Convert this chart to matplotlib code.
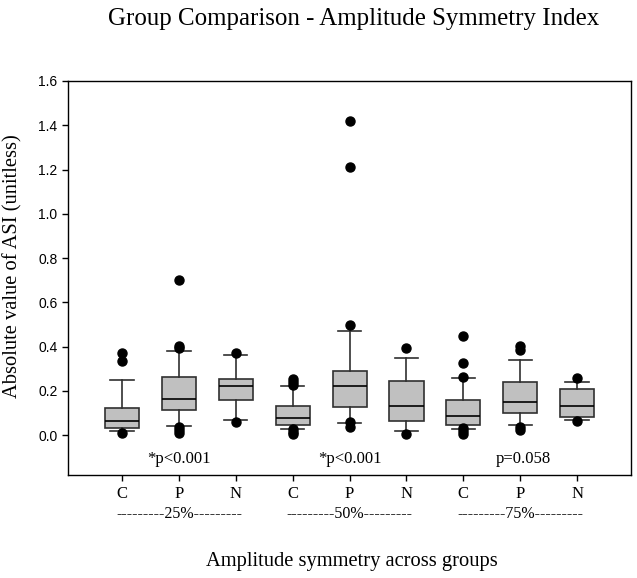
import matplotlib
matplotlib.use('Agg')
import matplotlib.pyplot as plt

# Box statistics (10th/25th/50th/75th/90th percentiles)
groups = ['C', 'P', 'N', 'C', 'P', 'N', 'C', 'P', 'N']
whisker_lo = [0.017, 0.042, 0.067, 0.026, 0.056, 0.017, 0.026, 0.045, 0.070]
q1 = [0.035, 0.112, 0.157, 0.047, 0.127, 0.065, 0.048, 0.100, 0.083]
median = [0.065, 0.163, 0.224, 0.077, 0.221, 0.133, 0.088, 0.150, 0.133]
q3 = [0.122, 0.265, 0.254, 0.130, 0.292, 0.243, 0.160, 0.240, 0.210]
whisker_hi = [0.251, 0.381, 0.361, 0.224, 0.469, 0.348, 0.259, 0.342, 0.242]
outliers = [
    [0.373, 0.336, 0.012],
    [0.701, 0.402, 0.392, 0.038, 0.024, 0.012],
    [0.373, 0.060],
    [0.254, 0.240, 0.226, 0.029, 0.015, 0.005],
    [1.419, 1.211, 0.500, 0.059, 0.036],
    [0.393, 0.006],
    [0.450, 0.328, 0.265, 0.033, 0.020, 0.006],
    [0.404, 0.384, 0.039, 0.024],
    [0.257, 0.063],
]
levels = ['---------25%---------', '---------50%---------', '---------75%---------']
p_values = ['*p<0.001', '*p<0.001', 'p=0.058']

serif = ['Liberation Serif', 'DejaVu Serif']
sans = ['Liberation Sans', 'DejaVu Sans']

stats = []
for i in range(len(groups)):
    stats.append({'whislo': whisker_lo[i], 'q1': q1[i], 'med': median[i],
                  'q3': q3[i], 'whishi': whisker_hi[i], 'fliers': outliers[i]})

fig = plt.figure(figsize=(6.37, 5.78), dpi=100)
ax = fig.add_axes([0.1068, 0.178, 0.884, 0.682])

positions = list(range(1, len(groups) + 1))
ax.bxp(stats, positions=positions, widths=0.6, capwidths=0.41, patch_artist=True,
       boxprops=dict(facecolor='#c0c0c0', edgecolor='#303030', linewidth=1.2),
       medianprops=dict(color='black', linewidth=1.2),
       whiskerprops=dict(color='#303030', linewidth=1.2),
       capprops=dict(color='#303030', linewidth=1.2),
       flierprops=dict(marker='o', markersize=6.5, markerfacecolor='black',
                       markeredgecolor='black'))

ax.set_xlim(0.05, 9.95)
ax.set_ylim(-0.18, 1.6)
ax.set_yticks([0.0, 0.2, 0.4, 0.6, 0.8, 1.0, 1.2, 1.4, 1.6])
ax.set_yticklabels([f'{v:.1f}' for v in ax.get_yticks()], family=sans, fontsize=10)
ax.set_xticks(positions)
ax.set_xticklabels(groups, family=serif, fontsize=12)
ax.tick_params(axis='both', direction='out', length=4, width=1)
ax.tick_params(axis='x', pad=4)

for s in ax.spines.values():
    s.set_linewidth(1.0)

# p-values inside the plot, level labels below the tick labels
for k in range(3):
    center = 3 * k + 2
    ax.text(center + (0.05 if k == 2 else 0), -0.107, p_values[k], ha='center', va='center',
            family=serif, fontsize=12)
    ax.text(center, -0.355, levels[k], ha='center', va='center',
            family=serif, fontsize=11.5, transform=ax.transData, clip_on=False)

fig.text(0.020, 0.540, 'Absolute value of ASI (unitless)', rotation=90, ha='center',
         va='center', family=serif, fontsize=14.8)
fig.text(0.553, 0.028, 'Amplitude symmetry across groups', ha='center', va='center',
         family=serif, fontsize=14.8)
fig.text(0.555, 0.967, 'Group Comparison - Amplitude Symmetry Index', ha='center',
         va='center', family=serif, fontsize=17.9)

fig.savefig('out.png', dpi=100)
